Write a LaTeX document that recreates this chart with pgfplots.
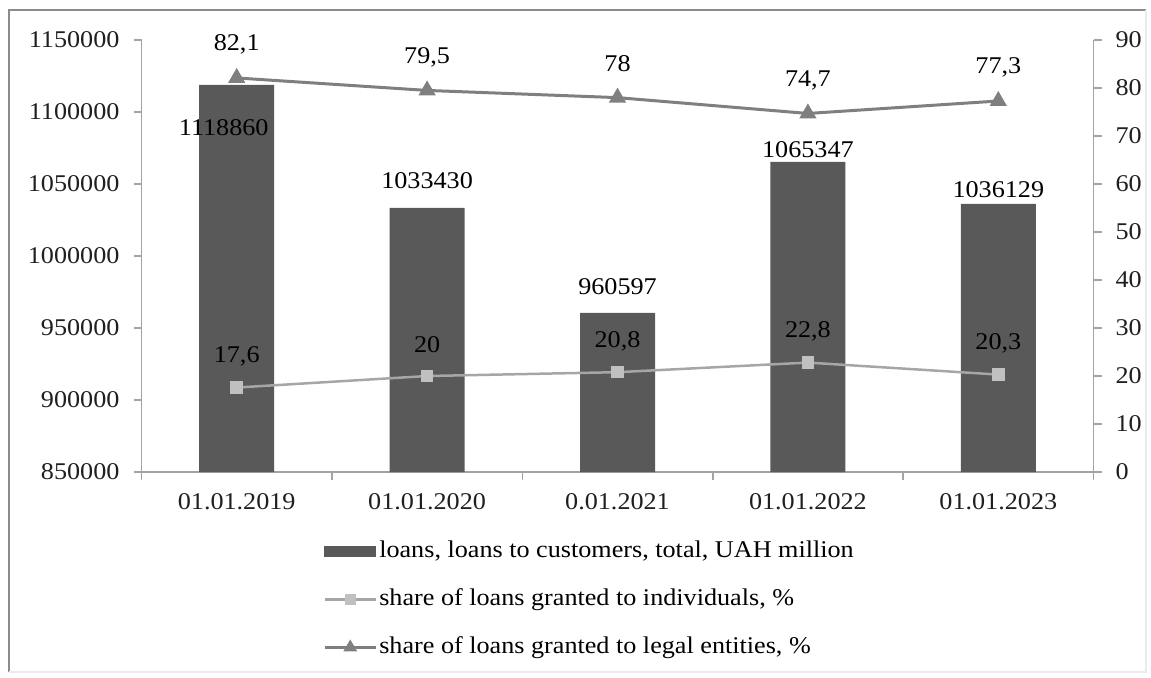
\documentclass[border=0pt]{standalone}
\usepackage{pgfplots}
\pgfplotsset{compat=1.18}
\usepackage{pgfplotstable}
\usepackage{fontspec}
\setmainfont[FakeStretch=1.09]{Liberation Serif}

\definecolor{barcol}{HTML}{595959}
\definecolor{legalcol}{HTML}{7F7F7F}
\definecolor{indcol}{HTML}{A6A6A6}
\definecolor{indmark}{HTML}{C0C0C0}
\definecolor{axcol}{HTML}{A3A3A3}

% loans to customers, UAH million (label offsets in pt)
\pgfplotstableread{
x loans   lbl     dx   dy
0 1118860 1118860 -6.5 -21.5
1 1033430 1033430 0    13.5
2 960597  960597  0    13
3 1065347 1065347 0    6
4 1036129 1036129 0    7
}\loans

% share of loans granted to legal entities, %
\pgfplotstableread{
x val  lbl
0 82.1 82,1
1 79.5 79,5
2 78   78
3 74.7 74,7
4 77.3 77,3
}\legal

% share of loans granted to individuals, %
\pgfplotstableread{
x val  lbl
0 17.6 17,6
1 20   20
2 20.8 20,8
3 22.8 22,8
4 20.3 20,3
}\individuals

\newcommand{\lblfont}{\fontsize{12}{14}\selectfont}

\pgfplotsset{
  common/.style={
    at={(70.75pt,-236pt)}, anchor=south west,
    scale only axis, width=476pt, height=216pt,
    xmin=-0.5, xmax=4.5,
    axis line style={axcol, line width=0.8pt, -},
    tick align=outside,
    major tick length=4pt, minor tick length=4pt,
    tick style={axcol, line width=0.8pt},
    ticklabel style={font=\lblfont, text=black!88},
    scaled y ticks=false,
    /pgf/number format/fixed,
    /pgf/number format/precision=0,
    /pgf/number format/1000 sep={},
    /pgf/number format/assume math mode=true,
  },
  linelegend/.style={
    legend image code/.code={\draw[mark repeat=2, mark phase=2, ##1, mark size=#1]
      plot coordinates {(0pt,0pt) (12.75pt,0pt) (25.5pt,0pt)};}
  },
  barlegend/.style={
    legend image code/.code={\fill[barcol] (0pt,-2.5pt) rectangle (25.5pt,2.5pt);}
  },
}

\begin{document}
\begin{tikzpicture}
\path[use as bounding box] (0pt,0pt) rectangle (575.5pt,-338.5pt);
\draw[black!45, line width=1pt] (4.5pt,-336pt) -- (4.5pt,-5pt) -- (573pt,-5pt);
\draw[black!8, line width=1pt] (573pt,-5pt) -- (573pt,-336pt) -- (4.5pt,-336pt);

\begin{axis}[common,
  ymin=850000, ymax=1150000,
  ytick={850000,900000,...,1150000},
  axis x line*=bottom, axis y line*=left,
  xtick={0,...,4},
  xticklabels={01.01.2019,01.01.2020,0.01.2021,01.01.2022,01.01.2023},
  minor xtick={-0.5,0.5,1.5,2.5,3.5,4.5},
  major x tick style={draw=none},
  yticklabel style={xshift=-3.5pt},
  xticklabel style={yshift=-3pt},
]
\addplot[ybar, bar width=37.5pt, fill=barcol, draw=none,
  nodes near coords, point meta=explicit symbolic,
  visualization depends on={\thisrow{dx} \as \dx},
  visualization depends on={\thisrow{dy} \as \dy},
  every node near coord/.append style={anchor=center, text=black, font=\lblfont,
    xshift=\dx pt, yshift=\dy pt}]
  table[x=x, y=loans, meta=lbl] {\loans};
\end{axis}

\begin{axis}[common,
  ymin=0, ymax=90, ytick={0,10,...,90},
  axis y line*=right, axis x line=none,
  clip=false,
  yticklabel style={xshift=3.5pt},
  legend cell align=left,
  legend style={at={(0.4706,-0.1505)}, anchor=north, draw=none, fill=none,
    font=\lblfont, row sep=10pt, inner sep=0pt,
    nodes={inner sep=1pt, text height=9pt, text depth=3pt}},
]
\addlegendimage{barlegend}
\addlegendentry{loans, loans to customers, total, UAH million}

\addplot[indcol, line width=1.25pt, mark=square*, mark size=2.5pt,
  mark options={fill=indmark, draw=indmark},
  linelegend=2pt,
  nodes near coords, point meta=explicit symbolic,
  every node near coord/.append style={anchor=center, text=black, font=\lblfont, yshift=15.5pt}]
  table[x=x, y=val, meta=lbl] {\individuals};
\addlegendentry{share of loans granted to individuals, \%}

\addplot[legalcol, line width=1.5pt, mark=triangle*, mark size=3.5pt,
  mark options={fill=legalcol, draw=legalcol},
  linelegend=2.5pt,
  nodes near coords, point meta=explicit symbolic,
  every node near coord/.append style={anchor=center, text=black, font=\lblfont, yshift=16.75pt}]
  table[x=x, y=val, meta=lbl] {\legal};
\addlegendentry{share of loans granted to legal entities, \%}
\end{axis}
\end{tikzpicture}
\end{document}
